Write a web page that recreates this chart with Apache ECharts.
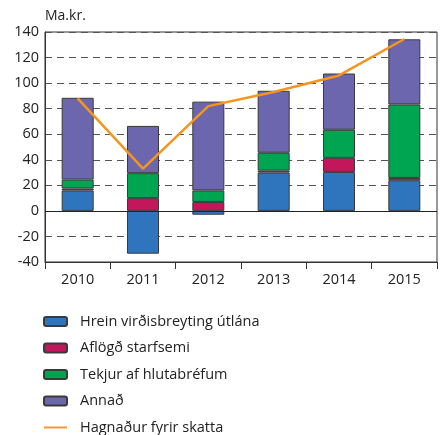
<!DOCTYPE html>
<html>
<head>
<meta charset="utf-8">
<script src="https://cdn.jsdelivr.net/npm/echarts@6/dist/echarts.min.js"></script>
<style>
  html, body { margin: 0; padding: 0; background: #fff; }
  #main { width: 442px; height: 435px; }
</style>
</head>
<body>
<div id="main"></div>
<script>
var years = ["2010", "2011", "2012", "2013", "2014", "2015"];
var hrein = [16, -33.5, -3, 30, 30.5, 24];
var aflogd = [1.5, 10, 7, 1.5, 11, 1.8];
var tekjur = [7, 19.5, 9, 14, 22, 57.5];
var annad = [64, 37, 69.5, 48.5, 44, 51];
var hagnadur = [88, 33, 82, 93, 106, 134.5];

var chartDom = document.getElementById("main");
var myChart = echarts.init(chartDom);
var font = "'Open Sans', 'DejaVu Sans', sans-serif";

function barSeries(name, data, color) {
  return {
    name: name,
    type: "bar",
    stack: "total",
    data: data,
    barWidth: "49%",
    itemStyle: { color: color, borderColor: "#3a3a3a", borderWidth: 1 },
  };
}

var option = {
  animation: false,
  textStyle: { fontFamily: font },
  graphic: [
    {
      type: "text",
      left: 45,
      top: 9,
      style: { text: "Ma.kr.", font: "14px " + font, fill: "#222" },
    },
  ],
  legend: {
    orient: "vertical",
    left: 38,
    top: 309,
    height: 300,
    itemWidth: 23,
    itemHeight: 9,
    itemGap: 11.5,
    symbolKeepAspect: true,
    textStyle: { fontSize: 14.5, color: "#222", padding: [0, 0, 0, 8] },
    data: [
      "Hrein virðisbreyting útlána",
      "Aflögð starfsemi",
      "Tekjur af hlutabréfum",
      "Annað",
      { name: "Hagnaður fyrir skatta", icon: "path://M0,0 L20,0 L20,1.6 L0,1.6 Z" },
    ],
  },
  grid: {
    left: 45,
    right: 5,
    top: 32,
    bottom: 173,
    show: true,
    borderColor: "#333",
    borderWidth: 1,
  },
  xAxis: {
    type: "category",
    data: years,
    axisLine: { onZero: false, lineStyle: { color: "#333" } },
    axisTick: { show: true, length: 7, lineStyle: { color: "#333" } },
    axisLabel: { fontSize: 14.5, color: "#222", margin: 10 },
  },
  yAxis: {
    type: "value",
    min: -40,
    max: 140,
    interval: 20,
    axisLine: { show: true, lineStyle: { color: "#333" } },
    axisTick: { show: false },
    axisLabel: { fontSize: 14.5, color: "#222", margin: 6 },
    splitLine: { lineStyle: { color: "#555", type: [7, 5] } },
  },
  series: [
    Object.assign(barSeries("Hrein virðisbreyting útlána", hrein, "#2e75bd"), {
      markLine: {
        silent: true,
        symbol: "none",
        label: { show: false },
        lineStyle: { color: "#222", type: "solid", width: 1 },
        data: [{ yAxis: 0 }],
      },
    }),
    barSeries("Aflögð starfsemi", aflogd, "#c2185b"),
    barSeries("Tekjur af hlutabréfum", tekjur, "#00a551"),
    barSeries("Annað", annad, "#6b66ad"),
    {
      name: "Hagnaður fyrir skatta",
      type: "line",
      data: hagnadur,
      symbol: "none",
      lineStyle: { color: "#f7941d", width: 2.5 },
      itemStyle: { color: "#f7941d" },
      z: 5,
    },
  ],
};

option && myChart.setOption(option);
</script>
</body>
</html>
